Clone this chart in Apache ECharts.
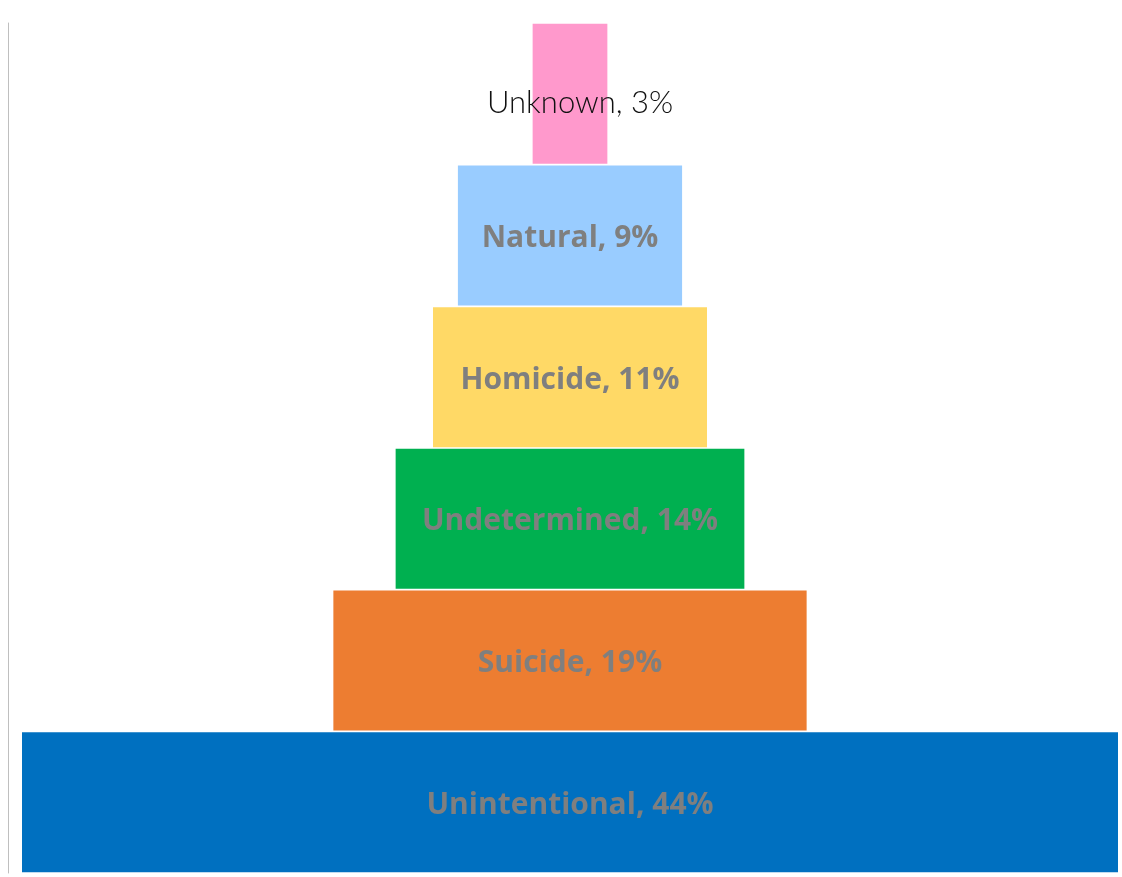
<!DOCTYPE html>
<html>
<head>
<meta charset="utf-8">
<script src="https://cdn.jsdelivr.net/npm/echarts@6/dist/echarts.min.js"></script>
<style>html,body{margin:0;padding:0;background:#fff;}#c{width:1122px;height:877px;}</style>
</head>
<body>
<div id="c"></div>
<script>
const categories = ['Unknown', 'Natural', 'Homicide', 'Undetermined', 'Suicide', 'Unintentional'];
const values = [3, 9, 11, 14, 19, 44];
const colors = ['#ff99cc', '#99ccff', '#ffd966', '#00b050', '#ed7d31', '#0070c0'];
const maxVal = Math.max(...values);
const offsets = values.map(v => (maxVal - v) / 2);

const chart = echarts.init(document.getElementById('c'));
chart.setOption({
  animation: false,
  grid: { left: 22, right: 4, top: 23, bottom: 4 },
  xAxis: { type: 'value', min: 0, max: maxVal, show: false },
  yAxis: {
    type: 'category', data: categories, inverse: true, offset: 14,
    axisLine: { show: true, onZero: false, lineStyle: { color: '#bfbfbf', width: 1 } },
    axisTick: { show: false }, axisLabel: { show: false }
  },
  series: [
    { type: 'bar', stack: 'p', data: offsets, itemStyle: { color: 'transparent' }, barWidth: 140, silent: true },
    {
      type: 'bar', stack: 'p', barWidth: 140,
      data: values.map((v, i) => ({
        value: v,
        itemStyle: { color: colors[i] },
        label: i === 0 ? { color: '#111', fontWeight: 300, fontFamily: 'Lato', fontSize: 31, offset: [10, 9] } : {}
      })),
      label: {
        show: true, position: 'inside', offset: [0, 3],
        formatter: p => p.name + ', ' + p.value + '%',
        color: '#7f7f7f', fontWeight: 'bold', fontFamily: 'Open Sans', fontSize: 30
      }
    }
  ]
});
</script>
</body>
</html>
